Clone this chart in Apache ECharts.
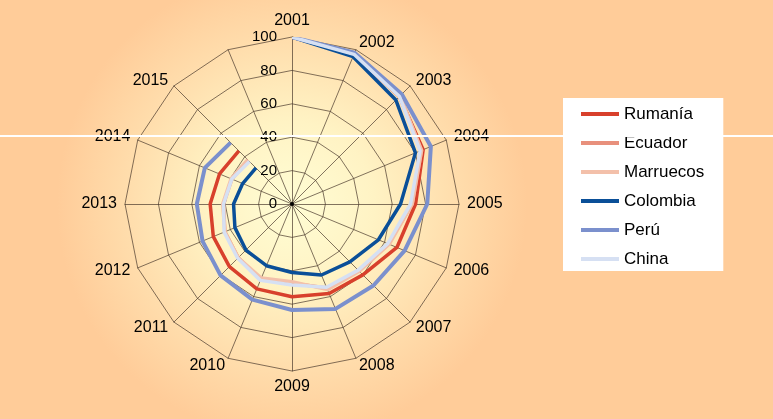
<!DOCTYPE html>
<html>

<head>
    <meta charset="UTF-8">
    <title>Radar por años</title>
    <script src="https://cdn.jsdelivr.net/npm/echarts/dist/echarts.min.js"></script>
</head>

<body style="margin:0;">
    <div id="chart" style="width: 773px;height:419px;"></div>
    <script type="text/javascript">
        // years round the chart (the last spoke has no label and no data)
        var years = ['2001', '2002', '2003', '2004', '2005', '2006', '2007', '2008',
            '2009', '2010', '2011', '2012', '2013', '2014', '2015', ''];
        var radiusTicks = [0, 20, 40, 60, 80, 100];

        var rumania = [100, 97, 91, 85, 74, 68, 60, 58, 55.5, 55, 53, 51, 49, 47, 45];
        var ecuador = [100, 97, 91, 84, 72, 62.5, 56.5, 54.5, 47.5, 49, 45.5, 43.5, 41, 39, 37];
        var marruecos = [100, 97, 91.5, 84, 72, 63, 57, 55.5, 46.5, 48, 45.5, 43.5, 41.5, 39.5, 37.5];
        var colombia = [100, 95.5, 88, 80, 65, 56, 49, 46, 41, 40, 39, 37, 35, 32, 30.5];
        var peru = [100, 98, 93, 90, 81, 73, 69, 68, 63.5, 62, 60.5, 58, 57, 56.5, 52];
        var china = [100, 97, 91, 83, 71, 62, 56, 54, 48.5, 49.5, 46, 44, 41, 39, 36];

        var myChart = echarts.init(document.getElementById('chart'));

        // radar goes counter-clockwise, so flip the order after the first spoke
        var indicators = [years[0]].concat(years.slice(1).reverse()).map(function (y) {
            return { name: y, min: 0, max: 100 };
        });

        function lineSeries(name, data, color, width) {
            return {
                name: name,
                type: 'line',
                coordinateSystem: 'polar',
                data: data,
                color: color,
                symbol: 'none',
                z: 3,
                lineStyle: { width: width, color: color }
            };
        }

        var option = {
            backgroundColor: '#FFCC99',
            textStyle: { fontFamily: 'Liberation Sans' },
            graphic: [
                {
                    type: 'circle',
                    z: -10,
                    silent: true,
                    shape: { cx: 292, cy: 204, r: 235 },
                    style: {
                        fill: {
                            type: 'radial', x: 0.5, y: 0.5, r: 0.5,
                            colorStops: [
                                { offset: 0, color: '#FFFDD4' },
                                { offset: 0.35, color: '#FFF3C4' },
                                { offset: 0.7, color: '#FFDDAC' },
                                { offset: 1, color: '#FFCC99' }
                            ]
                        }
                    }
                },
                {
                    type: 'circle',
                    z: 10,
                    silent: true,
                    shape: { cx: 292, cy: 204, r: 2 },
                    style: { fill: '#000' }
                },
                {
                    type: 'rect',
                    z: 100,
                    silent: true,
                    shape: { x: 0, y: 135, width: 773, height: 2 },
                    style: { fill: '#FFFFFF' }
                }
            ],
            radar: {
                center: [292, 204],
                radius: 167,
                startAngle: 90,
                shape: 'polygon',
                splitNumber: 5,
                indicator: indicators,
                axisName: { color: '#000', fontSize: 16, fontFamily: 'Liberation Sans' },
                nameGap: 8,
                axisLine: { lineStyle: { color: '#4a3a2c', width: 0.7 } },
                splitLine: { lineStyle: { color: '#4a3a2c', width: 0.7 } },
                splitArea: { show: false }
            },
            polar: {
                center: [292, 204],
                radius: 167
            },
            angleAxis: {
                type: 'category',
                data: years,
                boundaryGap: false,
                startAngle: 90,
                clockwise: true,
                show: false
            },
            radiusAxis: {
                type: 'value',
                min: radiusTicks[0],
                max: radiusTicks[radiusTicks.length - 1],
                interval: radiusTicks[1] - radiusTicks[0],
                axisLine: { show: false },
                axisTick: { show: false },
                splitLine: { show: false },
                axisLabel: { color: '#000', fontSize: 15, margin: 15, fontFamily: 'Liberation Sans' }
            },
            legend: {
                orient: 'vertical',
                left: 563,
                top: 98,
                backgroundColor: '#FFFFFF',
                padding: [7, 19, 3, 18],
                icon: 'rect',
                itemWidth: 38,
                itemHeight: 4,
                itemGap: 11,
                textStyle: { color: '#000', fontSize: 17, lineHeight: 18, fontFamily: 'Liberation Sans' },
                data: ['Rumanía', 'Ecuador', 'Marruecos', 'Colombia', 'Perú', 'China']
            },
            series: [
                lineSeries('Rumanía', rumania, '#D8402C', 3.5),
                lineSeries('Ecuador', ecuador, '#E8907C', 3.5),
                lineSeries('Marruecos', marruecos, '#F3C0AA', 3.5),
                lineSeries('Colombia', colombia, '#0A4F98', 3.5),
                lineSeries('Perú', peru, '#7B90CD', 4),
                lineSeries('China', china, '#D6E0F3', 3.5)
            ]
        };

        myChart.setOption(option);
    </script>
</body>

</html>
